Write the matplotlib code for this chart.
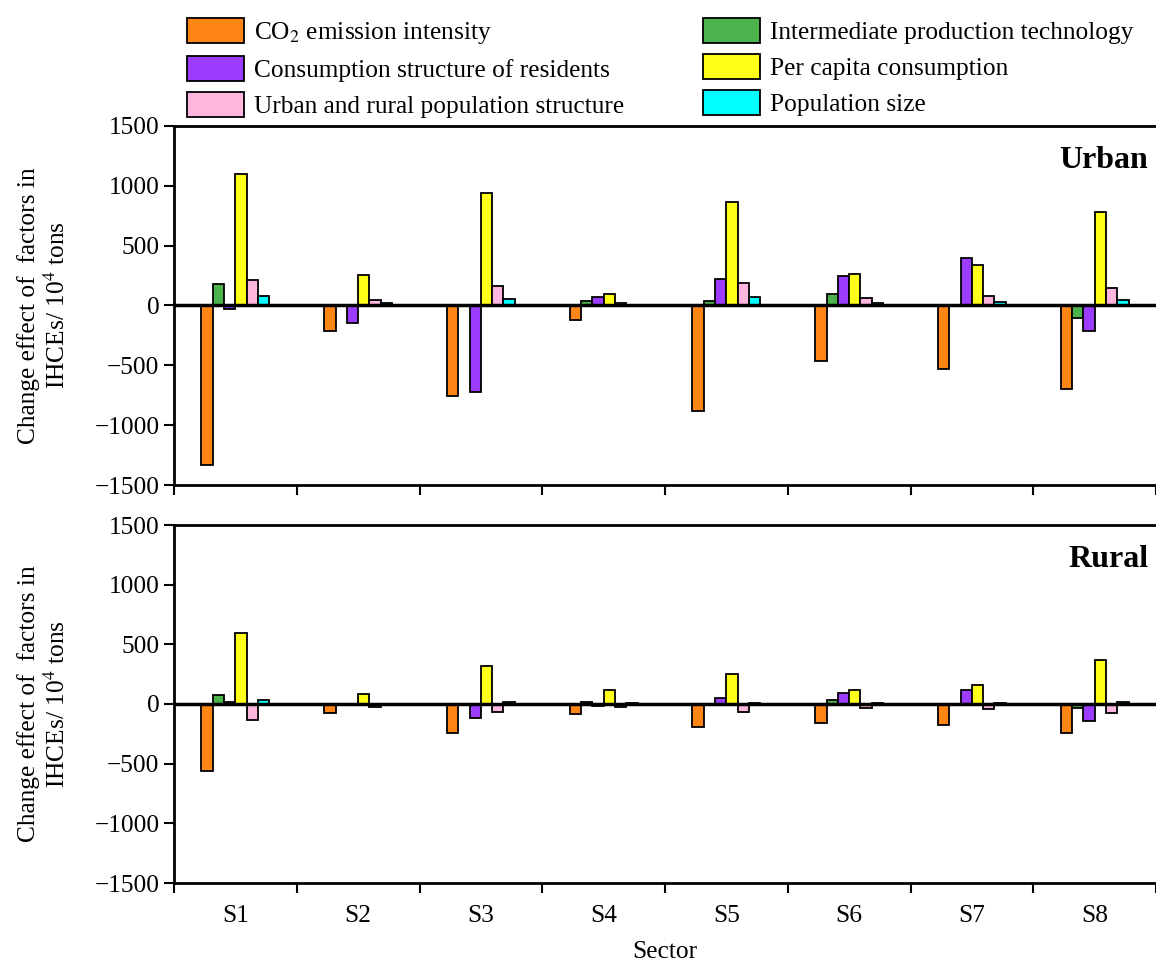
import numpy as np
import matplotlib
matplotlib.use("Agg")
import matplotlib.pyplot as plt
from matplotlib.patches import Patch

plt.rcParams["font.family"] = ["Liberation Serif", "DejaVu Serif"]
plt.rcParams["mathtext.fontset"] = "stix"

# ── data ──────────────────────────────────────────────────────────────────────
sectors = ["S1", "S2", "S3", "S4", "S5", "S6", "S7", "S8"]

factors = [
    "CO$_2$ emission intensity",
    "Intermediate production technology",
    "Consumption structure of residents",
    "Per capita consumption",
    "Urban and rural population structure",
    "Population size",
]
colors = ["#FF8515", "#4CB34C", "#9B3CFF", "#FFFF1A", "#FFB6DE", "#00FFFF"]

urban_co2     = [-1330, -217, -758, -119, -883, -461, -528, -697]
urban_tech    = [181, 2, 3, 36, 39, 97, 2, -106]
urban_struct  = [-28, -145, -722, 69, 225, 247, 394, -214]
urban_percap  = [1095, 258, 944, 94, 864, 267, 336, 778]
urban_urbrur  = [214, 44, 161, 25, 189, 61, 81, 144]
urban_popsize = [78, 19, 52, 8, 69, 25, 28, 50]

rural_co2     = [-560, -76, -246, -87, -193, -157, -176, -246]
rural_tech    = [72, 2, 3, 20, 3, 34, 2, -34]
rural_struct  = [20, 3, -120, -20, 53, 93, 118, -140]
rural_percap  = [594, 84, 322, 118, 255, 120, 162, 372]
rural_urbrur  = [-138, -22, -67, -25, -67, -36, -45, -78]
rural_popsize = [31, 3, 14, 5, 10, 5, 7, 17]

urban = [urban_co2, urban_tech, urban_struct, urban_percap, urban_urbrur, urban_popsize]
rural = [rural_co2, rural_tech, rural_struct, rural_percap, rural_urbrur, rural_popsize]

# ── plot ──────────────────────────────────────────────────────────────────────
W, H = 1156, 963
fig = plt.figure(figsize=(W / 100, H / 100), dpi=100)

left = 174 / W
right = 1.0
ax_top = fig.add_axes([left, 1 - 485 / H, right - left, (485 - 126) / H])
ax_bot = fig.add_axes([left, 1 - 883 / H, right - left, (883 - 525) / H])

x = np.arange(len(sectors))
bw = 0.092
FS = 18.3

def draw_panel(ax, series, name):
    for i, (vals, c) in enumerate(zip(series, colors)):
        ax.bar(x + (i - 2.5) * bw, vals, bw, color=c, edgecolor="black", linewidth=1.3, zorder=2)
    ax.axhline(0, color="black", linewidth=2.5, zorder=3)
    ax.set_ylim(-1500, 1500)
    ax.set_yticks([-1500, -1000, -500, 0, 500, 1000, 1500])
    ax.set_yticklabels(["\u22121500", "\u22121000", "\u2212500", "0", "500", "1000", "1500"])
    ax.set_xlim(-0.5, 7.40)
    ax.set_xticks(np.arange(-0.5, 8, 1.0))
    ax.set_xticks(x, minor=True)
    ax.tick_params(axis="both", which="major", direction="out", length=7, width=1.5, labelsize=FS)
    ax.tick_params(axis="x", which="major", labelbottom=False)
    ax.tick_params(axis="x", which="minor", length=0, labelsize=FS, pad=16)
    ax.spines["right"].set_visible(False)
    for s in ["left", "top", "bottom"]:
        ax.spines[s].set_linewidth(2.0)
    ax.set_ylabel("Change effect of  factors in\nIHCEs/ 10$^4$ tons", fontsize=FS)
    ax.yaxis.set_label_coords(-0.106, 0.5)
    ax.text(0.992, 0.905, name, transform=ax.transAxes, ha="right", va="center",
            fontsize=23, fontweight="bold")

draw_panel(ax_top, urban, "Urban")
draw_panel(ax_bot, rural, "Rural")

ax_bot.set_xticklabels(sectors, minor=True)
ax_bot.set_xlabel("Sector", fontsize=FS, labelpad=10)

order = [0, 2, 4, 1, 3, 5]
handles = [Patch(facecolor=colors[i], edgecolor="black", linewidth=1.3) for i in order]
labels = [factors[i] for i in order]
fig.legend(handles, labels, ncol=2, loc="upper left", bbox_to_anchor=(187 / W, 1 - 18 / H),
           frameon=False, fontsize=FS, handlelength=2.25, handleheight=1.15,
           handletextpad=0.38, columnspacing=3.12, labelspacing=0.38, borderaxespad=0,
           borderpad=0)

fig.savefig("out.png", dpi=100)
